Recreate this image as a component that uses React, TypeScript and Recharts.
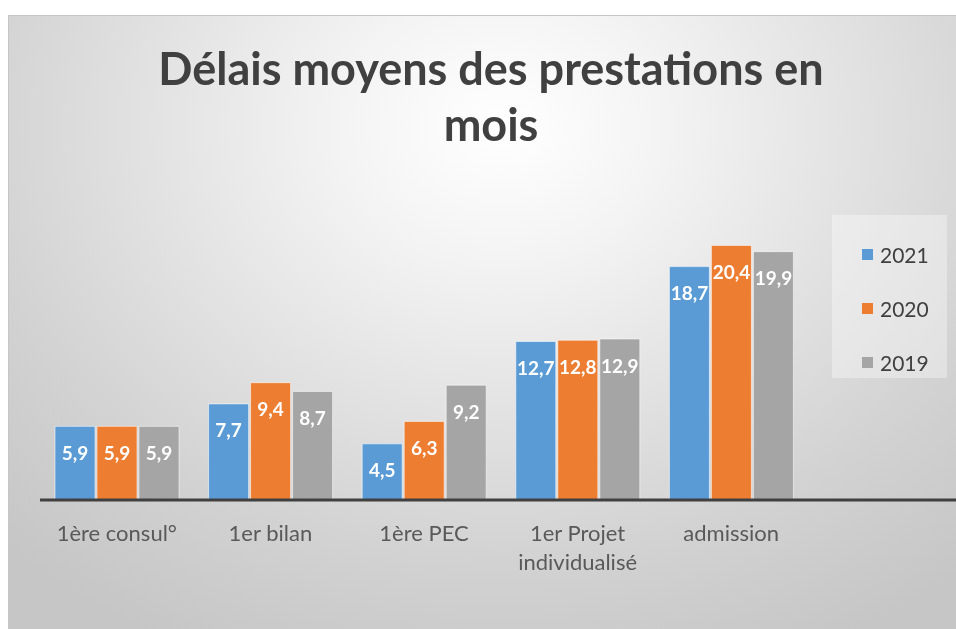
import React from "react";
import { BarChart, Bar, XAxis, YAxis, LabelList, Legend, Text } from "recharts";

const TITLE = "Délais moyens des prestations en mois";
const categories = ["1ère consul°", "1er bilan", "1ère PEC", "1er Projet individualisé", "admission"];
const years = ["2021", "2020", "2019"];
const values2021 = [5.9, 7.7, 4.5, 12.7, 18.7];
const values2020 = [5.9, 9.4, 6.3, 12.8, 20.4];
const values2019 = [5.9, 8.7, 9.2, 12.9, 19.9];
const colors = ["#5B9BD5", "#ED7D31", "#A5A5A5"];

const FONT = "Lato, 'Open Sans', sans-serif";

const data = categories.map((name, i) => ({
  name,
  y2021: values2021[i],
  y2020: values2020[i],
  y2019: values2019[i],
}));
const seriesKeys = ["y2021", "y2020", "y2019"];

function CategoryTick(props: any) {
  const { x, y, payload } = props;
  return (
    <Text
      x={x}
      y={y + 25}
      width={150}
      textAnchor="middle"
      verticalAnchor="start"
      lineHeight={29}
      fill="#595959"
      style={{ fontSize: 22, fontFamily: FONT }}
    >
      {payload.value}
    </Text>
  );
}

function ValueLabel(props: any) {
  const { x, y, width, value } = props;
  return (
    <text
      x={x + width / 2}
      y={y + 26}
      textAnchor="middle"
      dominantBaseline="central"
      fill="#ffffff"
      fontWeight={700}
      fontSize={19}
      fontFamily={FONT}
    >
      {String(value).replace(".", ",")}
    </text>
  );
}

function LegendBox(props: any) {
  // keep the legend in the same order as the years list (2021 on top)
  const items = [...(props.payload || [])].sort(
    (a: any, b: any) => years.indexOf(a.value) - years.indexOf(b.value)
  );
  return (
    <div
      style={{
        width: 115,
        height: 163,
        background: "rgba(255,255,255,0.35)",
        boxSizing: "border-box",
        paddingTop: 12,
      }}
    >
      {items.map((entry: any) => (
        <div
          key={entry.value}
          style={{ display: "flex", alignItems: "center", height: 54, paddingLeft: 30 }}
        >
          <span style={{ width: 11, height: 11, background: entry.color, marginRight: 7 }} />
          <span style={{ fontFamily: FONT, fontSize: 21, color: "#404040" }}>{entry.value}</span>
        </div>
      ))}
    </div>
  );
}

export default function App() {
  return (
    <div style={{ position: "fixed", left: 0, top: 0, width: 956, height: 629, overflow: "hidden" }}>
      <div
        style={{
          position: "absolute",
          left: 8,
          top: 15,
          width: 948,
          height: 614,
          overflow: "hidden",
          boxSizing: "border-box",
          borderTop: "1px solid #c6c6c6",
          borderLeft: "1px solid #c6c6c6",
          background:
            "radial-gradient(ellipse 75% 95% at 52% 18%, #ffffff 0%, #f4f4f4 22%, #e2e2e2 50%, #d2d2d2 75%, #c6c6c6 100%)",
        }}
      >
        <div
          style={{
            position: "absolute",
            left: 491 - 9 - 360,
            top: 24,
            width: 720,
            textAlign: "center",
            fontFamily: FONT,
            fontWeight: 700,
            fontSize: 45,
            lineHeight: "56px",
            color: "#404040",
          }}
        >
          {TITLE}
        </div>
        <BarChart
          width={960}
          height={613}
          data={data}
          margin={{ top: 172, right: 0, left: 31, bottom: 0 }}
          barCategoryGap={15}
          barGap={2}
        >
          <XAxis
            dataKey="name"
            height={129}
            tickLine={false}
            tickSize={0}
            tickMargin={0}
            axisLine={{ stroke: "#404040", strokeWidth: 3 }}
            padding={{ left: 0, right: 161 }}
            tick={<CategoryTick />}
            interval={0}
          />
          <YAxis hide domain={[0, 25]} />
          <Legend
            layout="vertical"
            align="center"
            verticalAlign="middle"
            content={<LegendBox />}
            wrapperStyle={{ left: 823, top: 199, width: 115, height: 163 }}
          />
          {seriesKeys.map((key, i) => (
            <Bar
              key={key}
              dataKey={key}
              name={years[i]}
              fill={colors[i]}
              stroke="rgba(255,255,255,0.55)"
              strokeWidth={1}
              isAnimationActive={false}
            >
              <LabelList dataKey={key} content={<ValueLabel />} />
            </Bar>
          ))}
        </BarChart>
      </div>
    </div>
  );
}
